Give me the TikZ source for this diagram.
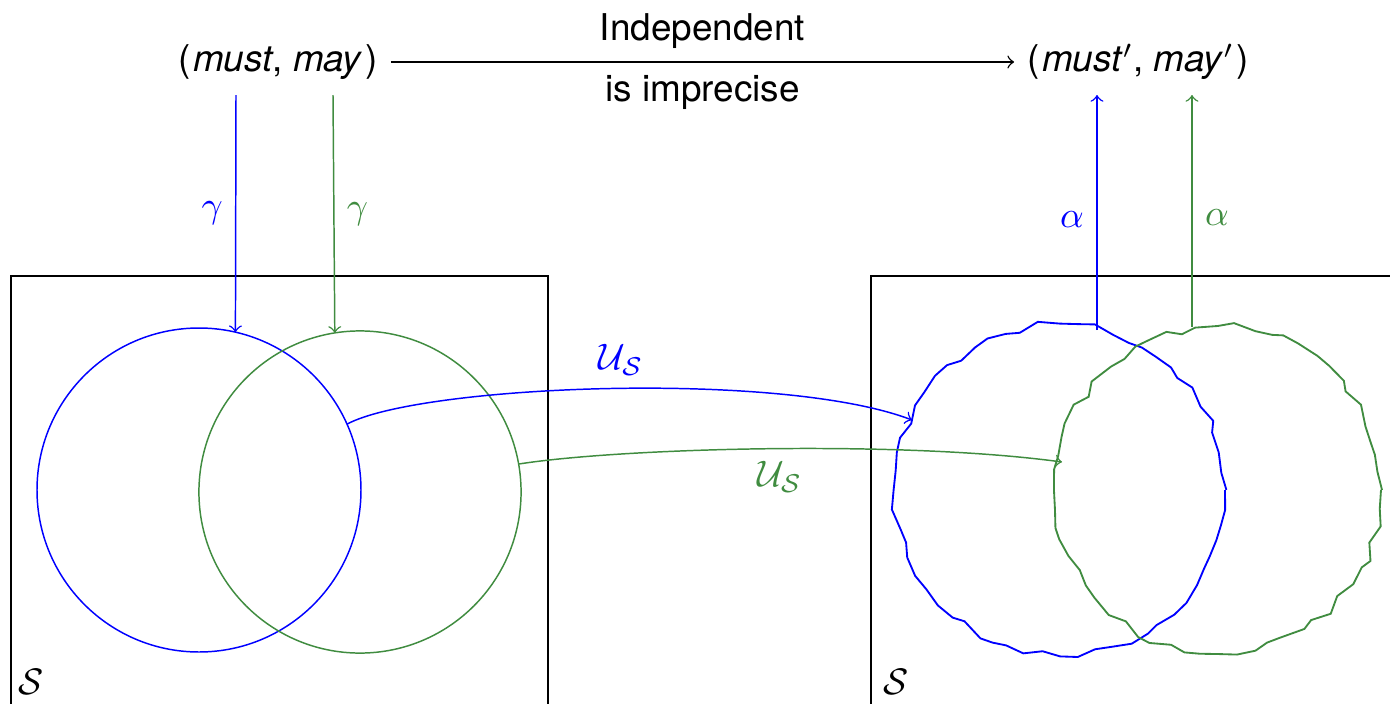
\documentclass[tikz,border=0pt]{standalone}
\usepackage{fontspec}
\setmainfont{TeX Gyre Heros}
\usetikzlibrary{decorations.pathmorphing}
\definecolor{mygreen}{RGB}{64,140,64}
\begin{document}
\begin{tikzpicture}[x=0.271pt,y=-0.271pt,
  jag/.style={decorate, line width=0.5pt, decoration={random steps, segment length=4.6pt, amplitude=1.2pt}},
  circ/.style={circle, draw, inner sep=0pt, outer sep=0pt},
  conn/.style={->}]
\useasboundingbox (0,0) rectangle (1390,703);
\clip (0,0) rectangle (1390,703);
\pgfmathsetseed{11}
% top nodes
\node (mm) at (278,62) {(\kern0.7pt\textit{must}, \textit{may}\kern0.7pt)};
\node (mm2) at (1138,62) {(\kern0.7pt\textit{must}$'$, \textit{may}$'$\kern0.7pt)};
\draw[conn] (mm.east) -- node[above]{Independent} node[below]{is imprecise} (mm.east -| mm2.west);
% boxes
\draw (11,276) rectangle (548,760);
\draw (871,276) rectangle (1420,760);
\node (s1) at (31,682) {$\mathcal{S}$};
\node (s2) at (896,682) {$\mathcal{S}$};
% left circles
\node[circ, draw=blue, minimum size=87.8pt] (bc) at (199,490) {};
\node[circ, draw=mygreen, minimum size=87.3pt] (gc) at (360,492) {};
% right jagged shapes
\draw[blue, jag] (1060,490) circle[radius=165];
\draw[mygreen, jag] (1218,490) circle[radius=163];
% coordinates
\coordinate (g1) at (236,95);
\coordinate (g2) at (333,95);
\coordinate (a1s) at (1097,330);
\coordinate (a2s) at (1192,327);
\coordinate (a1e) at (1097,95);
\coordinate (a2e) at (1192,95);
\coordinate (ub) at (912,420);
\coordinate (ug) at (1062,462);
% gamma arrows
\draw[conn, blue] (g1) -- node[left]{$\gamma$} (bc.77);
\draw[conn, mygreen] (g2) -- node[right]{$\gamma$} (gc.99.6);
% alpha arrows
\draw[conn, blue] (a1s) -- node[left, pos=0.47]{$\alpha$} (a1e);
\draw[conn, mygreen] (a2s) -- node[right, pos=0.47]{$\alpha$} (a2e);
% U arrows
\draw[conn, blue] (bc.24.7) .. controls (420,385) and (780,370) .. node[pos=0.52, above]{$\mathcal{U}_{\mathcal{S}}$} (ub);
\draw[conn, mygreen] (gc.10.6) .. controls (620,448) and (900,440) .. node[pos=0.52, below]{$\mathcal{U}_{\mathcal{S}}$} (ug);
\end{tikzpicture}
\end{document}
